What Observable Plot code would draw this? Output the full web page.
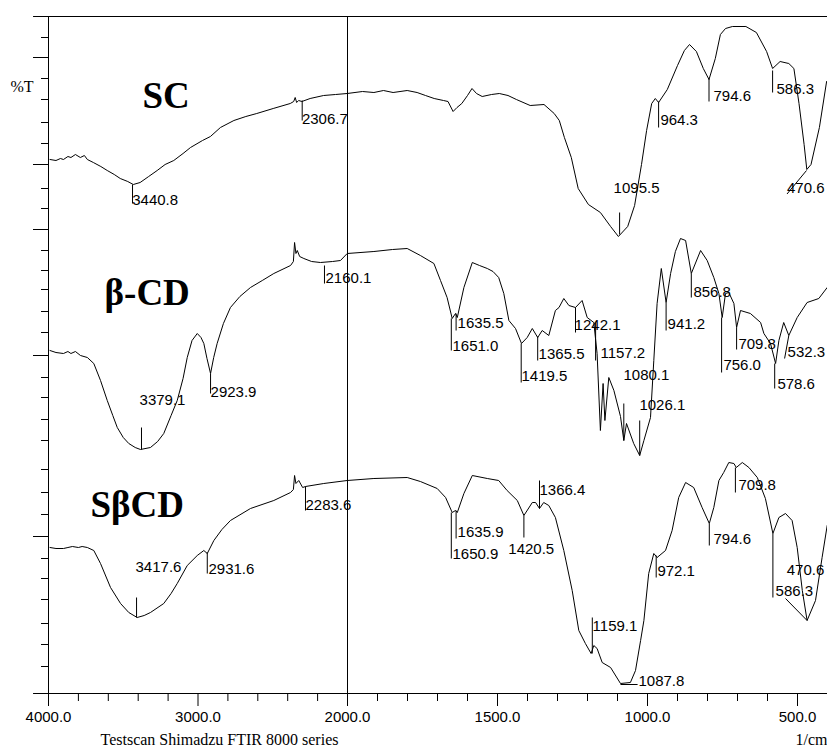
<!DOCTYPE html>
<html>
<head>
<meta charset="utf-8">
<script src="https://cdn.jsdelivr.net/npm/d3@7"></script>
<script src="https://cdn.jsdelivr.net/npm/@observablehq/plot@0.6"></script>
<style>
  html, body { margin: 0; padding: 0; background: #fff; }
  #chart svg { display: block; }
</style>
</head>
<body>
<div id="chart"></div>
<script>
// ---- Data (wavenumber in 1/cm, %T in arbitrary offset units) ----
const xTicksMajor = [4000, 3000, 2000, 1500, 1000, 500];
const xTicksMinor = [3800, 3600, 3400, 3200, 2800, 2600, 2400, 2200, 1900, 1800, 1700, 1600, 1400, 1300, 1200, 1100, 900, 800, 700, 600, 400];
const yTicksShort = [65.6, 61.5, 59.4, 57.1, 55.0, 50.5, 48.5, 44.3, 42.3, 40.4, 38.2, 36.1, 31.6, 29.6, 27.4, 25.3, 22.4, 20.1, 17.9, 13.5, 11.5, 9.4, 7.0, 4.9, 2.7];
const yTicksLong = [63.6, 52.9, 46.4, 33.8, 15.7];

const sampleNames = ["SC", "β-CD", "SβCD"];
const sampleNameX = [3371, 3625, 3719];
const sampleNameY = [59.75, 40.0, 18.8];

const sc = [[3990,53.4],[3950,53.3],[3920,53.5],[3900,53.4],[3870,53.7],[3850,53.6],[3820,53.9],[3787,53.6],[3760,53.8],[3740,53.4],[3700,53.1],[3650,52.7],[3607,52.3],[3560,51.9],[3520,51.5],[3470,51.2],[3433,50.9],[3387,51.1],[3330,51.7],[3273,52.3],[3220,52.9],[3162,53.3],[3100,54.0],[3050,54.6],[2970,55.3],[2917,55.7],[2850,56.6],[2760,57.3],[2680,57.7],[2607,58.0],[2497,58.5],[2383,59.0],[2360,59.2],[2350,59.6],[2340,59.1],[2327,59.3],[2305,59.2],[2250,59.5],[2160,59.8],[2080,59.9],[2002,60.0],[1950,60.2],[1912,60.1],[1880,60.3],[1848,60.1],[1801,60.3],[1768,60.1],[1740,59.8],[1711,59.5],[1680,59.3],[1665,59.2],[1648,58.2],[1635,58.6],[1619,59.0],[1600,59.8],[1585,60.5],[1570,60.0],[1551,59.7],[1520,59.9],[1494,60.0],[1465,59.8],[1437,59.4],[1391,58.8],[1345,58.9],[1311,58.0],[1294,57.3],[1277,55.6],[1254,53.6],[1231,50.5],[1197,48.9],[1157,48.1],[1123,46.7],[1097,45.7],[1066,46.7],[1043,48.8],[1020,52.9],[1003,56.3],[986,59.0],[974,59.5],[963,59.1],[934,60.4],[900,62.8],[877,64.3],[860,64.9],[837,64.2],[814,62.5],[795,61.4],[774,63.5],[757,65.9],[740,66.5],[717,66.7],[672,66.7],[637,66.1],[603,64.2],[583,62.5],[558,63.2],[529,63.0],[512,62.5],[495,59.0],[478,54.9],[469,52.4],[455,52.9],[427,56.6],[403,61.2]];

const bcd = [[3990,34.3],[3950,34.1],[3900,34.0],[3870,34.2],[3850,34.0],[3820,34.2],[3786,33.8],[3740,33.6],[3697,33.0],[3652,31.3],[3607,29.3],[3570,27.8],[3540,26.6],[3500,25.6],[3463,25.0],[3420,24.6],[3385,24.4],[3318,24.6],[3270,25.2],[3229,26.0],[3180,27.8],[3139,29.3],[3100,31.5],[3072,33.6],[3040,35.3],[3005,36.0],[2980,35.6],[2961,35.0],[2940,33.5],[2916,32.0],[2895,33.6],[2872,35.0],[2830,37.0],[2783,38.6],[2720,39.7],[2649,40.6],[2570,41.3],[2493,42.0],[2381,42.8],[2362,43.2],[2354,45.1],[2345,44.0],[2336,44.3],[2320,43.7],[2292,43.5],[2240,43.2],[2181,43.1],[2100,43.2],[2047,43.3],[2002,44.0],[1912,44.2],[1850,44.4],[1801,44.5],[1757,43.8],[1712,43.0],[1690,41.3],[1668,39.6],[1651,37.5],[1640,38.0],[1634,37.6],[1612,40.6],[1584,43.1],[1560,42.8],[1534,42.5],[1515,42.2],[1496,41.6],[1479,40.0],[1462,37.3],[1440,36.5],[1420,35.0],[1401,35.6],[1384,36.5],[1366,35.6],[1351,36.3],[1329,35.8],[1307,38.3],[1295,38.6],[1279,39.5],[1262,38.8],[1240,38.6],[1218,39.3],[1201,37.6],[1179,37.1],[1168,34.0],[1157,26.3],[1148,31.0],[1142,27.3],[1129,31.6],[1112,30.3],[1090,27.7],[1079,25.3],[1070,27.0],[1046,25.0],[1026,23.8],[1012,25.3],[990,27.6],[979,33.3],[968,39.0],[954,42.5],[938,39.1],[923,42.0],[907,44.2],[890,45.5],[873,45.3],[854,42.0],[823,44.3],[801,43.3],[779,41.6],[762,40.0],[751,37.6],[740,40.0],[729,40.1],[712,39.0],[703,36.6],[690,38.3],[657,38.0],[623,37.1],[612,36.0],[590,35.0],[573,33.0],[562,35.3],[546,37.1],[529,35.8],[501,37.6],[468,39.1],[429,39.5],[401,40.6]];

const sbcd = [[3990,14.6],[3950,14.5],[3900,14.5],[3870,14.6],[3840,14.7],[3800,14.6],[3775,14.7],[3740,14.6],[3697,14.3],[3652,13.0],[3585,10.6],[3518,9.0],[3463,8.1],[3407,7.6],[3360,7.8],[3318,8.1],[3229,9.0],[3180,10.0],[3139,11.0],[3072,12.8],[3005,13.8],[2961,14.3],[2938,14.0],[2894,15.3],[2840,16.4],[2783,17.3],[2649,18.5],[2493,19.3],[2381,20.1],[2362,20.4],[2354,21.8],[2345,21.0],[2326,21.3],[2300,20.6],[2281,20.7],[2159,21.0],[2002,21.3],[1912,21.5],[1801,21.6],[1757,21.2],[1701,20.5],[1673,19.6],[1651,18.1],[1640,18.3],[1634,18.1],[1612,20.0],[1584,21.8],[1534,21.5],[1496,21.3],[1468,20.3],[1434,19.3],[1412,17.8],[1384,19.1],[1373,19.1],[1360,18.5],[1346,19.1],[1329,18.8],[1307,17.6],[1279,14.3],[1251,10.3],[1229,6.3],[1207,5.0],[1188,4.0],[1179,4.8],[1168,4.5],[1151,3.1],[1123,2.6],[1090,1.0],[1057,1.1],[1040,2.3],[1023,5.3],[1012,7.3],[996,12.0],[979,14.0],[968,13.6],[940,14.3],[918,16.3],[896,19.6],[873,21.1],[846,20.6],[818,18.6],[794,17.0],[779,18.6],[762,21.3],[746,22.1],[729,23.1],[712,23.0],[704,22.6],[684,23.1],[662,22.6],[634,21.6],[607,19.5],[582,16.0],[562,17.6],[540,18.0],[518,17.3],[501,14.6],[484,10.3],[468,7.3],[440,9.3],[418,13.6],[401,16.8]];

// peak markers: [label, x1, y1, x2, y2, textX, textY]
const scPeaks = [
  ["3440.8", 3438, 50.9, 3438, 49.0, 3440, 49.3],
  ["2306.7", 2303, 59.3, 2303, 57.3, 2305, 57.45],
  ["1095.5", 1093, 45.9, 1093, 48.1, 1113, 50.55],
  ["964.3", 963, 59.2, 963, 56.6, 957, 57.3],
  ["794.6", 795, 61.5, 795, 59.2, 780, 59.75],
  ["586.3", 583, 62.3, 583, 60.1, 570, 60.45],
  ["470.6", 470, 52.3, 535, 49.95, 535, 50.5]
];
const bcdPeaks = [
  ["3379.1", 3378, 24.4, 3378, 26.6, 3391, 29.35],
  ["2923.9", 2916, 32.0, 2916, 30.0, 2916, 30.15],
  ["2160.1", 2154, 42.8, 2154, 41.0, 2147, 41.55],
  ["1651.0", 1654, 37.5, 1654, 34.3, 1650, 34.7],
  ["1635.5", 1638, 38.0, 1638, 36.3, 1633, 37.0],
  ["1419.5", 1421, 35.0, 1421, 31.1, 1420, 31.7],
  ["1365.5", 1366, 35.7, 1366, 33.3, 1363, 33.95],
  ["1242.1", 1240, 38.6, 1240, 36.1, 1243, 36.8],
  ["1157.2", 1173, 37.1, 1173, 33.3, 1157, 34.05],
  ["1080.1", 1079, 25.3, 1079, 29.0, 1080, 31.85],
  ["1026.1", 1026, 23.8, 1026, 27.3, 1027, 28.8],
  ["941.2", 938, 39.1, 938, 36.3, 933, 36.9],
  ["856.8", 854, 42.0, 854, 39.6, 847, 40.15],
  ["756.0", 753, 37.6, 753, 32.1, 747, 32.8],
  ["709.8", 703, 36.6, 703, 34.4, 697, 34.95],
  ["578.6", 576, 33.0, 576, 30.5, 567, 30.95],
  ["532.3", 529, 35.8, 543, 33.5, 533, 34.15]
];
const sbcdPeaks = [
  ["3417.6", 3411, 7.6, 3411, 9.6, 3418, 12.65],
  ["2931.6", 2938, 14.1, 2938, 12.0, 2930, 12.45],
  ["2283.6", 2281, 20.7, 2281, 18.3, 2281, 18.85],
  ["1650.9", 1654, 18.1, 1654, 13.5, 1650, 13.95],
  ["1635.9", 1638, 18.3, 1638, 15.5, 1633, 16.15],
  ["1420.5", 1412, 17.8, 1412, 15.6, 1464, 14.45],
  ["1366.4", 1360, 18.5, 1360, 21.3, 1360, 20.3],
  ["1159.1", 1184, 4.0, 1184, 7.6, 1183, 6.75],
  ["1087.8", 1090, 0.9, 1033, 0.9, 1030, 1.25],
  ["972.1", 971, 13.8, 971, 11.6, 967, 12.2],
  ["794.6", 794, 17.0, 794, 14.8, 780, 15.45],
  ["709.8", 707, 22.6, 707, 20.1, 697, 20.85],
  ["586.3", 582, 16.0, 582, 9.6, 573, 10.25],
  ["470.6", 468, 7.3, 540, 9.5, 536, 12.3]
];

const axisLabelY = "%T";
const axisLabelX = "1/cm";
const caption = "Testscan Shimadzu FTIR 8000 series";

// ---- Chart ----
const peaks = [...scPeaks, ...bcdPeaks, ...sbcdPeaks];
const names = sampleNames.map((t, i) => ({t, x: sampleNameX[i], y: sampleNameY[i]}));
const labelFont = "'Liberation Sans', Arial, sans-serif";
const serif = "'Liberation Serif', 'Times New Roman', serif";
const xMin = 4000, xMax = 400, xFrameLeft = 4100;
const yMin = 0, yMax = 67.7;

const chart = Plot.plot({
  width: 827,
  height: 752,
  marginLeft: 48, marginRight: 0, marginTop: 16, marginBottom: 59,
  style: {background: "#fff", color: "#000"},
  x: {type: "linear", domain: [4000, 2000, 400], range: [48, 347, 827], axis: null, label: null},
  y: {domain: [yMin, yMax], range: [693, 16], axis: null, label: null},
  marks: [
    // frame lines
    Plot.ruleY([yMax], {x1: xFrameLeft, x2: xMax, stroke: "#000"}),
    Plot.ruleY([yMin], {x1: xFrameLeft, x2: xMax, stroke: "#000"}),
    Plot.ruleX([xMin, 2000], {y1: yMin, y2: yMax, stroke: "#000"}),
    // y ticks
    Plot.axisY({ticks: yTicksShort, tickSize: 7, tickFormat: () => "", anchor: "left", label: null, stroke: "#000"}),
    Plot.axisY({ticks: yTicksLong, tickSize: 15, tickFormat: () => "", anchor: "left", label: null, stroke: "#000"}),
    // x ticks
    Plot.axisX({ticks: xTicksMajor, tickSize: 13, tickFormat: () => "", anchor: "bottom", label: null, stroke: "#000"}),
    Plot.axisX({ticks: xTicksMinor, tickSize: 8, tickFormat: () => "", anchor: "bottom", label: null, stroke: "#000"}),
    Plot.text(xTicksMajor, {x: d => d, frameAnchor: "bottom", dy: 28.5, text: d => d.toFixed(1),
      fontFamily: labelFont, fontSize: 15, fill: "#000"}),
    // spectra
    Plot.line(sc, {x: d => d[0], y: d => d[1], stroke: "#000", strokeWidth: 1}),
    Plot.line(bcd, {x: d => d[0], y: d => d[1], stroke: "#000", strokeWidth: 1}),
    Plot.line(sbcd, {x: d => d[0], y: d => d[1], stroke: "#000", strokeWidth: 1}),
    // peak markers
    Plot.link(peaks, {x1: d => d[1], y1: d => d[2], x2: d => d[3], y2: d => d[4], stroke: "#000", strokeWidth: 1}),
    Plot.text(peaks, {x: d => d[5], y: d => d[6], text: d => d[0], textAnchor: "start",
      fontFamily: labelFont, fontSize: 15, fill: "#000"}),
    // sample names
    Plot.text(names, {x: "x", y: "y", text: "t", textAnchor: "start",
      fontFamily: serif, fontWeight: "bold", fontSize: 37, fill: "#000"}),
    // axis texts
    Plot.text([axisLabelY], {frameAnchor: "top-left", dx: -38, dy: 64, textAnchor: "start",
      fontFamily: serif, fontSize: 16, fill: "#000"}),
    Plot.text([caption], {frameAnchor: "bottom-left", dx: 52, dy: 51, textAnchor: "start",
      fontFamily: serif, fontSize: 16, fill: "#000"}),
    Plot.text([axisLabelX], {frameAnchor: "bottom-right", dx: 0, dy: 51, textAnchor: "end",
      fontFamily: serif, fontSize: 16, fill: "#000"})
  ]
});
document.getElementById("chart").appendChild(chart);
</script>
</body>
</html>
